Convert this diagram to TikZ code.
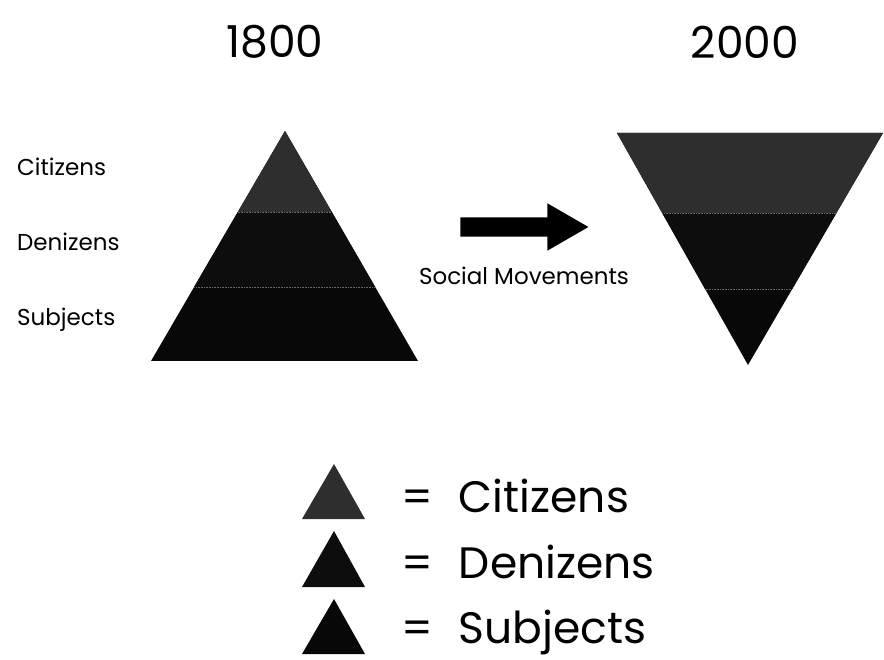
\documentclass[tikz,border=0pt]{standalone}
\usepackage{fontspec}
\setmainfont{Poppins}
\usetikzlibrary{shapes.arrows}
\definecolor{citizengray}{gray}{0.18}
\definecolor{denizenblack}{gray}{0.05}
\definecolor{subjectblack}{gray}{0.03}
\tikzset{
    yearlabel/.style={
           font=\fontsize{44}{44}\selectfont,
           inner sep=0pt
           },
    rowlabel/.style={
           font=\fontsize{23}{23}\selectfont,
           anchor=base west,
           inner sep=0pt
           },
    keylabel/.style={
           font=\fontsize{44}{44}\selectfont,
           anchor=base west,
           inner sep=0pt
           },
    bandline/.style={draw=white!40!black, line width=0.6pt, densely dotted},
}

\begin{document}
\begin{tikzpicture}[x=1pt,y=-1pt]
            \useasboundingbox (0,0) rectangle (884,660);

            % years
            \node[yearlabel] (Y1800) at (275,42) {1800};
            \node[yearlabel] (Y2000) at (745,42) {2000};

            % row labels
            \node[rowlabel] (CIT) at (17,176) {Citizens};
            \node[rowlabel] (DEN) at (17,251) {Denizens};
            \node[rowlabel] (SUB) at (17,326) {Subjects};

            % pyramid 1800
            \begin{scope}
             \clip (285,131) -- (418,361) -- (151,361) -- cycle;
             \fill[subjectblack] (140,120) rectangle (430,370);
             \fill[denizenblack] (140,212) rectangle (430,287);
             \fill[citizengray] (140,120) rectangle (430,212);
             \draw[bandline] (140,212) -- (430,212);
             \draw[bandline] (140,287) -- (430,287);
            \end{scope}

            % inverted pyramid 2000
            \begin{scope}
             \clip (617,133) -- (883,133) -- (748,365) -- cycle;
             \fill[subjectblack] (600,120) rectangle (884,370);
             \fill[denizenblack] (600,213) rectangle (884,289);
             \fill[citizengray] (600,120) rectangle (884,213);
             \draw[bandline] (600,213) -- (884,213);
             \draw[bandline] (600,289) -- (884,289);
            \end{scope}

            % social movements arrow
            \node[single arrow, fill=black, draw=none,
                  minimum height=128pt,
                  inner xsep=0pt, inner ysep=9.5pt,
                  single arrow head extend=14pt,
                  single arrow tip angle=60] (ARROW) at (516,227) {};
            \node[rowlabel, anchor=base] (SOC) at (524,285) {Social Movements};

            % legend
            \fill[citizengray] (334,464) -- (365,519) -- (302,519) -- cycle;
            \fill[denizenblack] (334,531) -- (365,587) -- (302,587) -- cycle;
            \fill[subjectblack] (334,599) -- (365,654) -- (302,654) -- cycle;
            \node[keylabel] (KCIT) at (401,512) {=\hspace{26pt}Citizens};
            \node[keylabel] (KDEN) at (401,578) {=\hspace{26pt}Denizens};
            \node[keylabel] (KSUB) at (401,643) {=\hspace{26pt}Subjects};
\end{tikzpicture}
\end{document}
